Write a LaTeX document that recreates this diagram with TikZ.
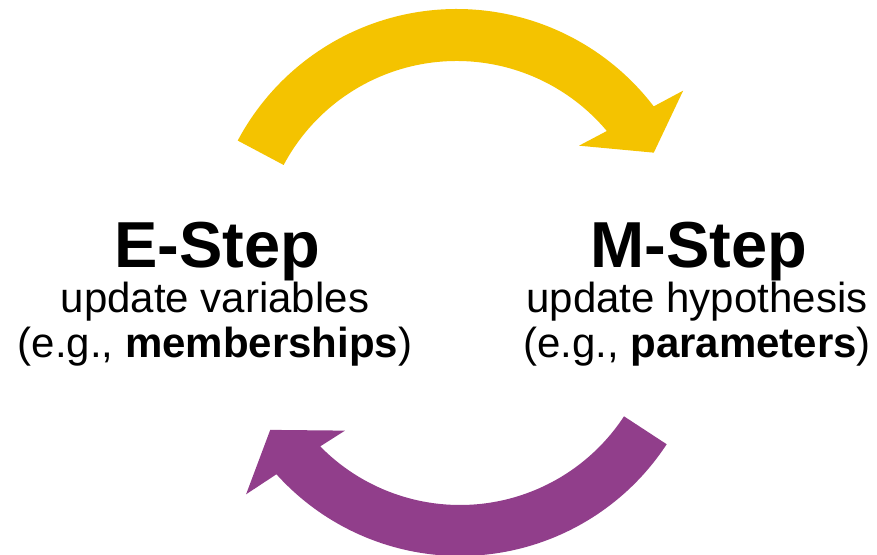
\documentclass[tikz,border=0pt]{standalone}
\usepackage{fontspec}
\setmainfont{Liberation Sans}
\definecolor{yel}{HTML}{F4C300}
\definecolor{pur}{HTML}{913E8B}
\tikzset{
  titletext/.style={anchor=base,inner sep=0pt,font=\fontsize{65}{78}\selectfont\bfseries},
  bodytext/.style={anchor=base,inner sep=0pt,font=\fontsize{42}{50}\selectfont},
}
\begin{document}
\begin{tikzpicture}[x=1pt,y=1pt]
\useasboundingbox (0,0) rectangle (877,554);
% yellow arrow (E -> M)
\begin{scope}[shift={(456.7,297)}]
\fill[yel] (152:248) arc[start angle=152,end angle=37.4,radius=248]
  -- (36.3:281) -- (27.9:223) -- (42.3:165.4) -- (40:196)
  arc[start angle=40,end angle=152,radius=196] -- cycle;
\end{scope}
% purple arrow (M -> E)
\begin{scope}[shift={(460,245)}]
\fill[pur] (-33.2:247) arc[start angle=-33.2,end angle=-138,radius=247]
  -- (-139.1:283) -- (-147.5:225) -- (-133.4:167.4) -- (-135.5:196)
  arc[start angle=-135.5,end angle=-33.2,radius=196] -- cycle;
\end{scope}
\node[titletext] (etitle) at (217,286) {E-Step};
\node[bodytext] (eline1) at (215,241) {update variables};
\node[bodytext] (eline2) at (215,196) {(e.g., \textbf{memberships})};
\node[titletext] (mtitle) at (699,286) {M-Step};
\node[bodytext] (mline1) at (697,241) {update hypothesis};
\node[bodytext] (mline2) at (697,196) {(e.g., \textbf{parameters})};
\end{tikzpicture}
\end{document}
